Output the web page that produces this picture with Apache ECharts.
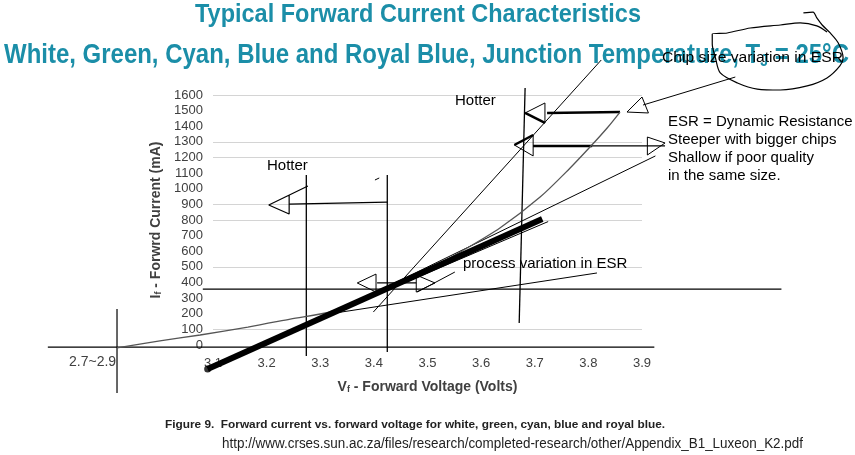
<!DOCTYPE html>
<html>
<head>
<meta charset="utf-8">
<script src="https://cdn.jsdelivr.net/npm/echarts@6/dist/echarts.min.js"></script>
<style>
  html, body { margin: 0; padding: 0; background: #fff; }
  #chart { width: 855px; height: 455px; }
</style>
</head>
<body>
<div id="chart"></div>
<script>
// axis ranges / ticks
var vMin = 3.1, vMax = 3.9, vStep = 0.1;
var iMin = 0, iMax = 1600, iStep = 100;
// which horizontal grid lines still show in the scan (0..1600)
var gridShown = [0, 1, 0, 0, 0, 1, 0, 0, 1, 1, 0, 0, 1, 1, 0, 0, 1];

// [Vf (V), If (mA)]
var mainCurve = [[3.09, -154], [3.714, 806]];
var mainCurveEdge = [[3.104, -118], [3.725, 790]];
var esrCurve = [[2.921, -19], [3.001, 26], [3.076, 64], [3.165, 115], [3.244, 166], [3.324, 218],
  [3.449, 397], [3.505, 486], [3.561, 595], [3.635, 749], [3.710, 947], [3.766, 1133],
  [3.803, 1267], [3.835, 1389], [3.859, 1491]];
var baseLine = [[2.792, -13], [3.923, -13]];
var knee = [[2.921, 230], [2.921, -307]];
var level350 = [[3.081, 358], [4.160, 358]];
var hotLineA = [[3.274, 1088], [3.274, -70]];
var hotLineB = [[3.425, 1088], [3.425, -45]];
var hotLineC = [[3.682, 1645], [3.671, 141]];
var steepLine = [[3.399, 211], [3.824, 1824]];
var shallowLine = [[3.412, 352], [3.925, 1210]];
var processLine = [[3.328, 205], [3.816, 461]];
var speck = [[3.402, 1056], [3.410, 1069]];

// arrows
var leftArrowShaft = [[3.425, 915], [3.242, 902]];
var leftArrowHead = [[3.277, 1018], [3.204, 896], [3.242, 838], [3.242, 960]];
var upperArrowShaft = [[3.723, 1485], [3.859, 1491]];
var upperArrowHead = [[3.719, 1421], [3.682, 1485], [3.719, 1549], [3.719, 1421]];
var upperArrowBold = [[3.682, 1485], [3.719, 1421]];
var lowerArrowShaft = [[3.697, 1274], [3.943, 1274]];
var lowerArrowBold = [[3.697, 1274], [3.807, 1274]];
var lowerArrowHeadL = [[3.697, 1210], [3.662, 1280], [3.697, 1344], [3.697, 1210]];
var lowerArrowHeadLBold = [[3.662, 1280], [3.697, 1344]];
var lowerArrowHeadR = [[3.910, 1331], [3.943, 1293], [3.910, 1216], [3.910, 1331]];
var tipArrowHead = [[3.872, 1491], [3.900, 1587], [3.912, 1485], [3.872, 1491]];
var tipPointer = [[3.902, 1536], [4.074, 1715]];
var midArrowHeadL = [[3.404, 339], [3.369, 397], [3.404, 454], [3.404, 339]];
var midArrowShaft = [[3.406, 397], [3.479, 397]];
var midArrowHeadR = [[3.479, 448], [3.514, 397], [3.479, 339], [3.479, 448]];
var midPointer = [[3.481, 339], [3.551, 467]];

// hand-drawn loop round the temperature
var loop = [[4.201, 2125], [4.219, 2131], [4.226, 2093], [4.236, 2048], [4.251, 1997], [4.266, 1933],
  [4.275, 1837], [4.269, 1786], [4.245, 1709], [4.208, 1658], [4.158, 1632], [4.115, 1638],
  [4.078, 1677], [4.046, 1741], [4.037, 1837], [4.031, 1926], [4.031, 1990], [4.059, 1997],
  [4.102, 2029], [4.158, 2048], [4.195, 2061], [4.226, 2042], [4.245, 2003]];

// plot box in pixels; the overlay axes span the whole canvas with the same scale
var W = 855, H = 455;
var box = { left: 213, right: 213, top: 95, bottom: 110, outerBoundsMode: 'none' };
var pxPerV = (W - box.left - box.right) / (vMax - vMin);
var pxPerMA = (H - box.top - box.bottom) / (iMax - iMin);

function seg(points, width, color, z, smooth) {
  return {
    type: 'line', data: points, symbol: 'none', silent: true,
    xAxisIndex: 1, yAxisIndex: 1,
    smooth: smooth || false, z: z || 3,
    lineStyle: { color: color || '#000', width: width || 1 }
  };
}

var measureCtx = document.createElement('canvas').getContext('2d');
function textWidth(text, font) { measureCtx.font = font; return measureCtx.measureText(text).width; }

var gridColors = gridShown.map(function (s) { return s ? '#d4d4d4' : 'rgba(0,0,0,0)'; });
var sans = 'Arial, "Liberation Sans", sans-serif';
var teal = '#1b8ea8';

var title1 = 'Typical Forward Current Characteristics';
var title2a = 'White, Green, Cyan, Blue and Royal Blue, Junction Temperature, T';
var title2b = ' = 25°C';
var caption = 'Figure 9.  Forward current vs. forward voltage for white, green, cyan, blue and royal blue.';
var source = 'http://www.crses.sun.ac.za/files/research/completed-research/other/Appendix_B1_Luxeon_K2.pdf';
var chipNote = 'Chip size variation in ESR';

var t1Scale = 446 / textWidth(title1, 'bold 25px ' + sans);
var t2Scale = 845 / (textWidth(title2a + title2b, 'bold 27px ' + sans) + textWidth('J', 'bold 16px ' + sans));
var capScale = 500 / textWidth(caption, 'bold 11px ' + sans);
var srcScale = 581 / textWidth(source, '14px ' + sans);
var chipScale = 181 / textWidth(chipNote, '14px ' + sans);

var chart = echarts.init(document.getElementById('chart'), null, { renderer: 'canvas' });

var option = {
  animation: false,
  backgroundColor: '#fff',
  grid: [
    box,
    { left: 0, right: 0, top: 0, bottom: 0, outerBoundsMode: 'none' }
  ],
  xAxis: [{
    type: 'value', gridIndex: 0, min: vMin, max: vMax, interval: vStep,
    axisLine: { show: false }, axisTick: { show: false }, splitLine: { show: false },
    axisLabel: {
      margin: 12, color: '#404040', fontSize: 13, fontFamily: sans,
      formatter: function (v) { return v.toFixed(1); }
    },
    name: '{a|V}{s|f}{a| - Forward Voltage (Volts)}',
    nameLocation: 'middle', nameGap: 35,
    nameTextStyle: {
      rich: {
        a: { fontSize: 14, fontWeight: 'bold', color: '#404040', fontFamily: sans },
        s: { fontSize: 9, fontWeight: 'bold', color: '#404040', verticalAlign: 'bottom', fontFamily: sans }
      }
    }
  }, {
    type: 'value', gridIndex: 1, show: false,
    min: vMin - box.left / pxPerV, max: vMax + box.right / pxPerV
  }],
  yAxis: [{
    type: 'value', gridIndex: 0, min: iMin, max: iMax, interval: iStep,
    axisLine: { show: false }, axisTick: { show: false },
    splitLine: { show: true, lineStyle: { color: gridColors, width: 1 } },
    axisLabel: { margin: 10, color: '#404040', fontSize: 13, fontFamily: sans,
      formatter: function (v) { return String(v); } },
    name: '{a|I}{s|f}{a| - Forwrd Current (mA)}',
    nameLocation: 'middle', nameGap: 32, nameRotate: 90,
    nameTextStyle: {
      rich: {
        a: { fontSize: 14, fontWeight: 'bold', color: '#404040', fontFamily: sans },
        s: { fontSize: 9, fontWeight: 'bold', color: '#404040', verticalAlign: 'bottom', fontFamily: sans }
      }
    }
  }, {
    type: 'value', gridIndex: 1, show: false,
    min: iMin - box.bottom / pxPerMA, max: iMax + box.top / pxPerMA
  }],
  graphic: [
    { type: 'text', z: 0, x: 418, y: 15, scaleX: t1Scale,
      style: { text: title1, x: 0, y: 0, align: 'center', verticalAlign: 'middle',
        fill: teal, fontSize: 25, fontWeight: 'bold', fontFamily: sans } },
    { type: 'text', z: 0, x: 4, y: 56, scaleX: t2Scale,
      style: { text: '{m|' + title2a + '}{s|J}{m|' + title2b + '}',
        x: 0, y: 0, align: 'left', verticalAlign: 'middle',
        rich: {
          m: { fill: teal, fontSize: 27, fontWeight: 'bold', fontFamily: sans },
          s: { fill: teal, fontSize: 16, fontWeight: 'bold', fontFamily: sans, verticalAlign: 'bottom' }
        } } },
    { type: 'text', z: 100, x: 662, y: 58, scaleX: chipScale,
      style: { text: chipNote, x: 0, y: 0, verticalAlign: 'middle',
        fill: '#000', fontSize: 14, fontFamily: sans } },
    { type: 'text', z: 100, style: { text: 'Hotter', x: 267, y: 166, verticalAlign: 'middle',
      fill: '#000', fontSize: 15, fontFamily: sans } },
    { type: 'text', z: 100, style: { text: 'Hotter', x: 455, y: 101, verticalAlign: 'middle',
      fill: '#000', fontSize: 15, fontFamily: sans } },
    { type: 'text', z: 100, style: { text: 'process variation in ESR', x: 463, y: 264, verticalAlign: 'middle',
      fill: '#000', fontSize: 15, fontFamily: sans } },
    { type: 'text', z: 100, style: {
      text: 'ESR = Dynamic Resistance\nSteeper with bigger chips\nShallow if poor quality\nin the same size.',
      x: 668, y: 113, verticalAlign: 'top', lineHeight: 18,
      fill: '#000', fontSize: 15, fontFamily: sans } },
    { type: 'text', z: 100, style: { text: '2.7~2.9', x: 69, y: 362, verticalAlign: 'middle',
      fill: '#404040', fontSize: 14, fontFamily: sans } },
    { type: 'text', z: 100, x: 165, y: 425, scaleX: capScale,
      style: { text: caption, x: 0, y: 0, verticalAlign: 'middle', fill: '#222', fontSize: 11,
        fontWeight: 'bold', fontFamily: sans } },
    { type: 'text', z: 100, x: 222, y: 444, scaleX: srcScale,
      style: { text: source, x: 0, y: 0, verticalAlign: 'middle', fill: '#222', fontSize: 14,
        fontFamily: sans } }
  ],
  series: [
    seg(baseLine, 1.2),
    seg(knee, 1.2),
    seg(level350, 1.2),
    seg(hotLineA, 1.3),
    seg(hotLineB, 1.3),
    seg(hotLineC, 1.3),
    seg(steepLine, 1),
    seg(shallowLine, 1),
    seg(processLine, 1),
    seg(speck, 1),
    seg(esrCurve, 1.3, '#555', 4, 0.3),
    seg(mainCurveEdge, 1, '#000', 5),
    seg(mainCurve, 6, '#000', 6),
    {
      type: 'scatter', data: [mainCurve[0]], symbolSize: 7, silent: true, z: 7,
      xAxisIndex: 1, yAxisIndex: 1,
      itemStyle: { color: '#000' }
    },
    seg(leftArrowShaft, 1.3),
    seg(leftArrowHead, 1.2),
    seg(upperArrowShaft, 2.5),
    seg(upperArrowHead, 1),
    seg(upperArrowBold, 2.5),
    seg(lowerArrowShaft, 1.3),
    seg(lowerArrowBold, 2.5),
    seg(lowerArrowHeadL, 1),
    seg(lowerArrowHeadLBold, 2.5),
    seg(lowerArrowHeadR, 1),
    seg(tipArrowHead, 1),
    seg(tipPointer, 1),
    seg(midArrowHeadL, 1),
    seg(midArrowShaft, 1.3),
    seg(midArrowHeadR, 1),
    seg(midPointer, 1),
    seg(loop, 1.2, '#000', 120, 0.3)
  ]
};

chart.setOption(option);
</script>
</body>
</html>
